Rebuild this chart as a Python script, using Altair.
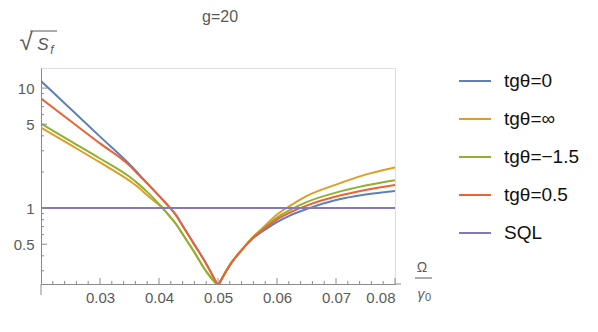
import altair as alt
import pandas as pd

# ---- data ----
x_vals = [0.020, 0.025, 0.030, 0.035, 0.0365, 0.038, 0.0406, 0.0419, 0.043, 0.044, 0.046,
          0.048, 0.050, 0.052, 0.054, 0.056, 0.058, 0.060, 0.062, 0.065, 0.070, 0.075, 0.080]
blue_vals = [11.44, 6.72, 3.94, 2.32, 1.939, 1.616, 1.177, 1.0, 0.858, 0.713, 0.496,
             0.344, 0.225, 0.335, 0.447, 0.562, 0.662, 0.764, 0.858, 0.981, 1.166, 1.296, 1.39]
orange_vals = [4.69, 3.36, 2.40, 1.692, 1.49, 1.278, 1.0, 0.845, 0.723, 0.608, 0.428,
               0.297, 0.225, 0.335, 0.447, 0.579, 0.715, 0.883, 1.029, 1.259, 1.57, 1.901, 2.18]
green_vals = [5.06, 3.62, 2.59, 1.823, 1.591, 1.365, 1.002, 0.845, 0.723, 0.608, 0.428,
              0.297, 0.225, 0.335, 0.447, 0.573, 0.694, 0.833, 0.953, 1.122, 1.346, 1.54, 1.71]
red_vals = [8.2, 5.31, 3.46, 2.26, 1.90, 1.60, 1.177, 1.0, 0.858, 0.713, 0.496,
            0.344, 0.225, 0.335, 0.447, 0.568, 0.681, 0.802, 0.908, 1.049, 1.247, 1.413, 1.555]
sql_x = [0.02, 0.08]
sql_vals = [1.0, 1.0]
dip_x = 0.050

series_names = ["tgθ=0", "tgθ=∞", "tgθ=−1.5", "tgθ=0.5", "SQL"]
series_colors = ["#5E81B5", "#E19C24", "#8FB032", "#EB6235", "#8778B3"]

x_major = [0.03, 0.04, 0.05, 0.06, 0.07, 0.08]
x_minor = [0.022, 0.024, 0.026, 0.028, 0.032, 0.034, 0.036, 0.038, 0.042, 0.044, 0.046,
           0.048, 0.052, 0.054, 0.056, 0.058, 0.062, 0.064, 0.066, 0.068, 0.072, 0.074,
           0.076, 0.078]
y_major = [0.5, 1, 5, 10]
y_minor = [0.3, 0.4, 0.6, 0.7, 0.8, 0.9, 2, 3, 4, 6, 7, 8, 9]

X_DOMAIN = [0.02, 0.08]
Y_DOMAIN = [0.233, 14.7]

rows = []
for i, (name, vals) in enumerate(zip(series_names[:4], [blue_vals, orange_vals, green_vals, red_vals])):
    for xv, yv in zip(x_vals, vals):
        if xv <= dip_x:
            rows.append({"series": name, "k": i, "part": name + "L", "x": xv, "y": yv})
        if xv >= dip_x:
            rows.append({"series": name, "k": i, "part": name + "R", "x": xv, "y": yv})
for xv, yv in zip(sql_x, sql_vals):
    rows.append({"series": "SQL", "k": 4, "part": "SQL", "x": xv, "y": yv})
df = pd.DataFrame(rows)

W, H = 354, 216
AX = "#8a8a8a"
TXT = "#5a5a5a"
FONT = "Liberation Sans"

xs = alt.Scale(domain=X_DOMAIN, nice=False, zero=False)
ys = alt.Scale(type="log", domain=Y_DOMAIN, nice=False)

lines = alt.Chart(df).mark_line(strokeWidth=2, clip=True, interpolate="monotone").encode(
    x=alt.X("x:Q", scale=xs, axis=alt.Axis(values=x_major, format=".2f", ticks=False,
                                           domainColor=AX, labelColor=TXT, labelFont=FONT,
                                           labelFontSize=15, labelPadding=6, title=None,
                                           grid=False)),
    y=alt.Y("y:Q", scale=ys, axis=alt.Axis(values=y_major, ticks=False, domainColor=AX,
                                           labelColor=TXT, labelFont=FONT, labelFontSize=15,
                                           labelPadding=7, title=None, grid=False,
                                           labelExpr="datum.value >= 1 ? format(datum.value, 'd') : format(datum.value, '.1f')")),
    color=alt.Color("series:N", sort=series_names,
                    scale=alt.Scale(domain=series_names, range=series_colors),
                    legend=alt.Legend(title=None, orient="none", legendX=417, legendY=-4,
                                      symbolType="stroke", symbolSize=1024, symbolStrokeWidth=2,
                                      labelFontSize=19, labelFont=FONT, labelColor="#111",
                                      labelOffset=12, rowPadding=11, padding=0)),
    detail="part:N",
    order=alt.Order("x:Q"),
)

xt_major = alt.Chart(pd.DataFrame({"x": x_major})).mark_rule(color=AX).encode(
    x=alt.X("x:Q", scale=xs), y=alt.value(H), y2=alt.value(H - 6))
xt_minor = alt.Chart(pd.DataFrame({"x": x_minor})).mark_rule(color=AX).encode(
    x=alt.X("x:Q", scale=xs), y=alt.value(H), y2=alt.value(H - 3))
yt_major = alt.Chart(pd.DataFrame({"y": y_major})).mark_rule(color=AX).encode(
    y=alt.Y("y:Q", scale=ys), x=alt.value(0), x2=alt.value(6))
yt_minor = alt.Chart(pd.DataFrame({"y": y_minor})).mark_rule(color=AX).encode(
    y=alt.Y("y:Q", scale=ys), x=alt.value(0), x2=alt.value(3))
y_ext = alt.Chart(pd.DataFrame({"a": [0]})).mark_rule(color=AX).encode(
    x=alt.value(0), y=alt.value(H), y2=alt.value(H + 11))
x_ext = alt.Chart(pd.DataFrame({"a": [0]})).mark_rule(color=AX).encode(
    x=alt.value(W), x2=alt.value(W + 6), y=alt.value(H))

def txt(s, x, y, size, italic=False, color=TXT, align="center"):
    return alt.Chart(pd.DataFrame({"t": [s]})).mark_text(
        fontSize=size, font=FONT, color=color, align=align, baseline="middle",
        fontStyle="italic" if italic else "normal").encode(
        text="t:N", x=alt.value(x), y=alt.value(y))

title = txt("g=20", 179, -51, 16)
sq = txt("√", -15, -25, 24)
sbar = alt.Chart(pd.DataFrame({"a": [0]})).mark_rule(color=TXT, strokeWidth=1).encode(
    x=alt.value(-11), x2=alt.value(16), y=alt.value(-37))
s_lab = txt("S", 2, -23, 17, italic=True)
f_lab = txt("f", 11, -18, 12, italic=True)
om = txt("Ω", 381, 200, 14)
obar = alt.Chart(pd.DataFrame({"a": [0]})).mark_rule(color=TXT, strokeWidth=1).encode(
    x=alt.value(374), x2=alt.value(391), y=alt.value(210))
gam = txt("γ", 380, 227, 14, italic=True)
g0 = txt("0", 387, 230, 11)

chart = alt.layer(
    lines, xt_major, xt_minor, yt_major, yt_minor, y_ext, x_ext,
    title, sq, sbar, s_lab, f_lab, om, obar, gam, g0
).properties(
    width=W, height=H,
    autosize=alt.AutoSizeParams(type="none"),
    padding={"left": 33, "top": 60, "right": 195, "bottom": 40},
).configure_view(stroke=None).configure(background="white")

chart.save("out.html", embed_options={"renderer": "svg", "actions": False})
